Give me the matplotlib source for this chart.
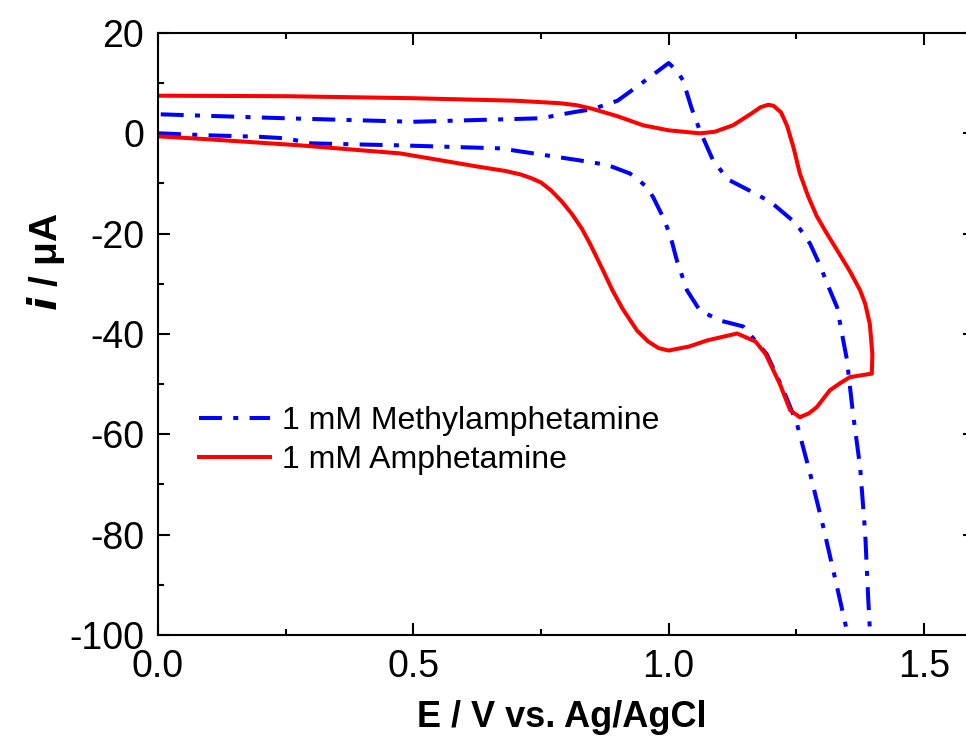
import matplotlib
matplotlib.use('Agg')
import matplotlib.pyplot as plt
from matplotlib.ticker import MultipleLocator, FormatStrFormatter

plt.rcParams['font.family'] = ['Liberation Sans', 'DejaVu Sans']
plt.rcParams['axes.unicode_minus'] = False

# cyclic voltammograms, potential (V) vs current (uA)
meth_E = [0.0, 0.1, 0.2, 0.25, 0.3, 0.474, 0.67, 0.826, 0.88, 0.924, 0.94, 0.958, 0.97, 0.989,
          1.003, 1.016, 1.036, 1.061, 1.1, 1.146, 1.192, 1.224, 1.251, 1.277, 1.303, 1.33,
          1.351, 1.36, 1.396, 1.394, 1.391, 1.385, 1.375, 1.361, 1.349, 1.342, 1.33, 1.316,
          1.295, 1.277, 1.25, 1.2, 1.16, 1.12, 1.107, 1.087, 1.061, 1.045, 1.028, 1.015, 1.0,
          0.95, 0.9, 0.85, 0.813, 0.75, 0.5, 0.25, 0.0]
meth_i = [0.0, -0.4, -0.7, -1.0, -2.0, -2.4, -3.0, -5.4, -6.3, -8.0, -9.2, -10.8, -12.8, -16.7,
          -20.3, -25.3, -31.3, -35.3, -37.3, -38.5, -44.0, -51.0, -57.8, -67.8, -78.5, -90.5,
          -100.0, -106.0, -106.0, -98.7, -93.0, -79.8, -66.5, -55.8, -45.0, -41.3, -34.7, -31.3,
          -26.0, -22.0, -18.0, -13.7, -11.5, -9.4, -8.0, -5.4, 0.6, 5.0, 10.6, 12.6, 14.0,
          10.2, 6.5, 4.8, 4.2, 3.0, 2.3, 3.0, 3.8]

amph_E = [0.0, 0.1, 0.278, 0.474, 0.63, 0.68, 0.71, 0.73, 0.75, 0.77, 0.79, 0.81, 0.83,
          0.846, 0.87, 0.89, 0.91, 0.938, 0.96, 0.98, 1.0, 1.04, 1.075, 1.134, 1.17, 1.19,
          1.218, 1.238, 1.257, 1.275, 1.29, 1.316, 1.336, 1.355, 1.398, 1.399, 1.394, 1.385,
          1.375, 1.355, 1.33, 1.31, 1.29, 1.273, 1.257, 1.245, 1.232, 1.22, 1.205, 1.195,
          1.18, 1.16, 1.126, 1.09, 1.061, 1.0, 0.95, 0.9, 0.85, 0.82, 0.787, 0.7, 0.5, 0.25,
          0.0]
amph_i = [-0.6, -1.2, -2.4, -4.0, -6.7, -7.5, -8.2, -8.9, -9.8, -11.4, -13.5, -16.0, -19.0,
          -22.0, -27.0, -31.3, -35.0, -39.3, -41.5, -42.8, -43.3, -42.5, -41.3, -39.9, -41.5,
          -44.0, -50.0, -55.2, -56.6, -55.8, -54.6, -51.2, -49.8, -48.6, -47.9, -44.0, -38.0,
          -34.0, -31.3, -27.5, -23.3, -20.0, -16.5, -12.5, -8.0, -3.0, 1.5, 4.2, 5.5, 5.7,
          5.2, 3.8, 1.6, 0.3, 0.0, 0.6, 1.6, 3.4, 4.9, 5.6, 6.0, 6.5, 7.0, 7.4,
          7.5]

fig = plt.figure(figsize=(9.66, 7.43), dpi=100)
ax = fig.add_axes([0.1636, 0.1454, 0.8457, 0.8102])

ax.plot(meth_E, meth_i, color='#0000ff', lw=2.9, dashes=(5.7, 2.8, 1.25, 2.8),
        label='1 mM Methylamphetamine')
ax.plot(amph_E, amph_i, color='#ff0000', lw=2.9, label='1 mM Amphetamine')

ax.set_xlim(0, 1.6)
ax.set_ylim(-100, 20)
ax.xaxis.set_major_locator(MultipleLocator(0.5))
ax.xaxis.set_minor_locator(MultipleLocator(0.25))
ax.xaxis.set_major_formatter(FormatStrFormatter('%.1f'))
ax.yaxis.set_major_locator(MultipleLocator(20))
ax.yaxis.set_minor_locator(MultipleLocator(10))

ax.tick_params(which='both', direction='in', top=True, right=True, width=1.5, labelsize=27)
ax.tick_params(which='major', length=8.6, pad=10)
ax.tick_params(which='minor', length=4.3)
for sp in ax.spines.values():
    sp.set_linewidth(1.5)

ax.set_xlabel('E / V vs. Ag/AgCl', fontsize=26, fontweight='bold')
ax.set_ylabel(r'$\boldsymbol{i}$ / μA', fontsize=28, fontweight='bold')
ax.xaxis.set_label_coords(0.494, -0.108)
ax.yaxis.set_label_coords(-0.112, 0.62)

ax.legend(loc='upper left', bbox_to_anchor=(0.035, 0.402), frameon=False, fontsize=23,
          handlelength=2.2, handletextpad=0.4, labelspacing=0.3, borderaxespad=0)

fig.savefig('out.png', dpi=100)
